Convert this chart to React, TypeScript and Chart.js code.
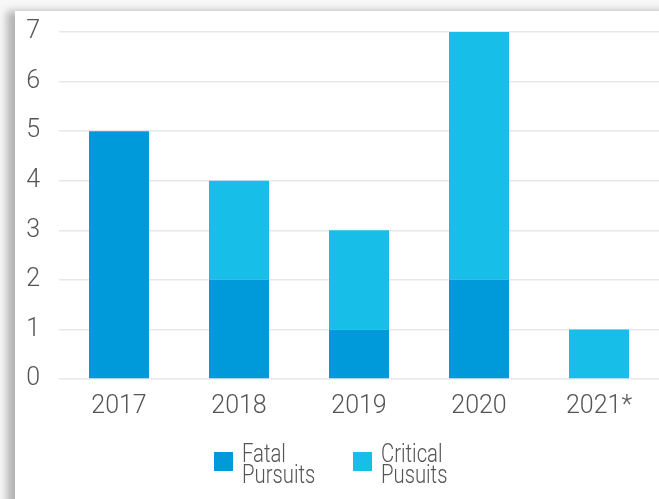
import React, { useEffect, useRef } from "react";
import { Chart, registerables } from "chart.js";

Chart.register(...registerables);

const categories = ["2017", "2018", "2019", "2020", "2021*"];
const fatalPursuits = [5, 2, 1, 2, 0];
const criticalPursuits = [0, 2, 2, 5, 1];
const seriesLabels = [["Fatal", "Pursuits"], ["Critical", "Pusuits"]];
const yTicks = [0, 1, 2, 3, 4, 5, 6, 7];

const FONT = "Roboto, 'Noto Sans', sans-serif";
const TEXT = "#555555";

const legendPlugin = {
  id: "multiLegend",
  afterDraw(chart: any) {
    const { ctx, chartArea } = chart;
    const startX = chartArea.left + 155;
    const boxTop = chartArea.bottom + 73;
    const offsets = [0, 139];
    ctx.save();
    chart.data.datasets.forEach((ds: any, i: number) => {
      const x = startX + offsets[i];
      ctx.fillStyle = ds.backgroundColor;
      ctx.fillRect(x, boxTop, 19, 19);
      ctx.fillStyle = TEXT;
      ctx.font = `300 26px ${FONT}`;
      ctx.textBaseline = "alphabetic";
      ctx.textAlign = "left";
      const lines: string[] = seriesLabels[i];
      lines.forEach((l, j) => {
        ctx.save();
        ctx.translate(x + 28, boxTop + 10 + j * 21);
        ctx.scale(0.78, 1);
        ctx.fillText(l, 0, 0);
        ctx.restore();
      });
    });
    ctx.restore();
  },
};

export default function App() {
  const ref = useRef<HTMLCanvasElement | null>(null);
  useEffect(() => {
    if (!ref.current) return;
    const chart = new Chart(ref.current, {
      type: "bar",
      data: {
        labels: categories,
        datasets: [
          {
            label: seriesLabels[0].join(" "),
            data: fatalPursuits,
            backgroundColor: "#0099D9",
            barPercentage: 0.5,
            categoryPercentage: 1,
          },
          {
            label: seriesLabels[1].join(" "),
            data: criticalPursuits,
            backgroundColor: "#17BEE8",
            barPercentage: 0.5,
            categoryPercentage: 1,
          },
        ],
      },
      options: {
        animation: false,
        responsive: false,
        maintainAspectRatio: false,
        layout: { padding: { top: 21, right: 0, left: 0, bottom: 0 } },
        plugins: {
          legend: { display: false },
          tooltip: { enabled: false },
        },
        scales: {
          x: {
            stacked: true,
            grid: { display: false },
            border: { display: false },
            ticks: {
              color: TEXT,
              font: { family: FONT, size: 25, weight: 300 },
              padding: 5,
              maxRotation: 0,
            },
            afterFit: (s: any) => {
              s.height = 120;
            },
          },
          y: {
            stacked: true,
            min: 0,
            max: 7,
            afterBuildTicks: (s: any) => {
              s.ticks = yTicks.map((v) => ({ value: v }));
            },
            grid: {
              color: "#e8e8e8",
              lineWidth: 1.5,
              drawTicks: true,
              tickLength: 19,
              tickColor: "rgba(0,0,0,0)",
            },
            border: { display: false },
            ticks: {
              color: TEXT,
              font: { family: FONT, size: 25, weight: 300 },
              padding: 0,
            },
            afterFit: (s: any) => {
              s.width = 44;
            },
          },
        },
      },
      plugins: [legendPlugin],
    });
    return () => chart.destroy();
  }, []);

  return (
    <div
      style={{
        position: "fixed",
        left: 0,
        top: 0,
        width: 659,
        height: 499,
        background: "#f7f7f7",
        overflow: "hidden",
      }}
    >
      <div
        style={{
          position: "absolute",
          left: 15,
          top: 11,
          width: 660,
          height: 500,
          background: "#ffffff",
          boxShadow: "-8px 0px 8px rgba(0,0,0,0.28)",
        }}
      >
        <canvas ref={ref} width={644} height={488} style={{ display: "block" }} />
      </div>
    </div>
  );
}
